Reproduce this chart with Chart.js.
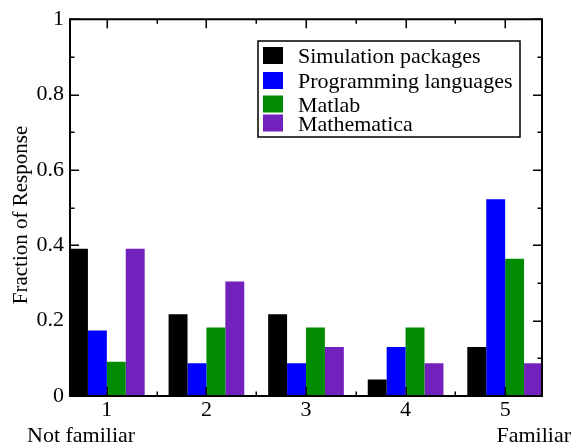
<!DOCTYPE html>
<html>
<head>
<meta charset="utf-8">
<style>
  html, body { margin: 0; padding: 0; background: #fff; }
  #wrap { width: 573px; height: 444px; }
</style>
<script src="https://cdn.jsdelivr.net/npm/chart.js@4/dist/chart.umd.min.js"></script>
</head>
<body>
<div id="wrap"><canvas id="c" width="573" height="444"></canvas></div>
<script>
// ---- data ----
const categories = [1, 2, 3, 4, 5];
const seriesNames = ["Simulation packages", "Programming languages", "Matlab", "Mathematica"];
const simulationPackages = [0.391, 0.217, 0.217, 0.044, 0.130];
const programmingLanguages = [0.174, 0.087, 0.087, 0.130, 0.522];
const matlab = [0.091, 0.182, 0.182, 0.182, 0.364];
const mathematica = [0.391, 0.304, 0.130, 0.087, 0.087];
const xMinorTicks = [1.5, 2.5, 3.5, 4.5];
const yMajorTicks = [0, 0.2, 0.4, 0.6, 0.8, 1];
const yMinorTicks = [0.1, 0.3, 0.5, 0.7, 0.9];
const yTitle = "Fraction of Response";
const lowLabel = "Not familiar";
const highLabel = "Familiar";

const colors = ["#000000", "#0000ff", "#008b00", "#7221bc"];
const seriesValues = [simulationPackages, programmingLanguages, matlab, mathematica];
const FONT = '"Liberation Serif", "Times New Roman", serif';
Chart.defaults.font.family = FONT;
Chart.defaults.font.size = 22;
Chart.defaults.color = '#000';

const datasets = seriesValues.map((vals, i) => ({
  label: seriesNames[i],
  data: categories.map((c, k) => ({ x: c, y: vals[k] })),
  backgroundColor: colors[i],
  borderWidth: 0,
  categoryPercentage: 0.76,
  barPercentage: 1.0
}));

const framePlugin = {
  id: 'frame',
  afterDatasetsDraw(chart) {
    const ctx = chart.ctx;
    const a = chart.chartArea;
    const xs = chart.scales.x, ys = chart.scales.y;
    ctx.save();
    ctx.strokeStyle = '#000';
    ctx.lineWidth = 2;
    ctx.beginPath();
    ctx.rect(a.left, a.top, a.right - a.left, a.bottom - a.top);
    ctx.stroke();
    ctx.lineWidth = 1.5;
    ctx.beginPath();
    const xt = (v, len) => {
      const p = Math.round(xs.getPixelForValue(v)) + 0.25;
      ctx.moveTo(p, a.bottom); ctx.lineTo(p, a.bottom - len);
      ctx.moveTo(p, a.top); ctx.lineTo(p, a.top + len);
    };
    const yt = (v, len) => {
      const p = Math.round(ys.getPixelForValue(v)) + 0.25;
      ctx.moveTo(a.left, p); ctx.lineTo(a.left + len, p);
      ctx.moveTo(a.right, p); ctx.lineTo(a.right - len, p);
    };
    categories.forEach(v => xt(v, 9));
    xMinorTicks.forEach(v => xt(v, 4.5));
    yMajorTicks.forEach(v => yt(v, 9));
    yMinorTicks.forEach(v => yt(v, 4.5));
    ctx.stroke();

    // legend
    const bx = 258, by = 41, bw = 262, bh = 96;
    ctx.fillStyle = '#fff';
    ctx.fillRect(bx, by, bw, bh);
    ctx.lineWidth = 1.5;
    ctx.strokeRect(bx, by, bw, bh);
    const rowBase = [64, 89, 112.5, 131.5];
    ctx.font = '22px ' + FONT;
    ctx.textBaseline = 'alphabetic';
    ctx.textAlign = 'left';
    chart.data.datasets.forEach((ds, i) => {
      const b = rowBase[i];
      ctx.fillStyle = ds.backgroundColor;
      ctx.fillRect(263, b - 17, 20, 17);
      ctx.fillStyle = '#000';
      ctx.fillText(ds.label, 298, b - 1);
    });

    // y title
    ctx.save();
    ctx.translate(27, 215);
    ctx.rotate(-Math.PI / 2);
    ctx.textAlign = 'center';
    ctx.textBaseline = 'alphabetic';
    ctx.font = '21px ' + FONT;
    ctx.fillText(yTitle, 0, 0);
    ctx.restore();

    // end labels
    ctx.font = '22px ' + FONT;
    ctx.textAlign = 'left';
    ctx.fillText(lowLabel, 27, 442);
    ctx.textAlign = 'right';
    ctx.fillText(highLabel, 571, 442);
    ctx.restore();
  }
};

new Chart(document.getElementById('c'), {
  type: 'bar',
  data: { datasets },
  options: {
    responsive: false,
    animation: false,
    layout: { padding: { top: 18, right: 31, left: 0, bottom: 0 } },
    plugins: { legend: { display: false }, tooltip: { enabled: false } },
    scales: {
      x: {
        type: 'linear',
        offset: false,
        min: 0.63,
        max: 5.37,
        afterBuildTicks: (s) => { s.ticks = categories.map(v => ({ value: v })); },
        afterFit: (s) => { s.height = 48; },
        grid: { display: false, drawTicks: false, offset: false },
        border: { display: false },
        ticks: { color: '#000', font: { family: FONT, size: 22 }, padding: 1, maxRotation: 0,
                  callback: (v) => String(v) }
      },
      y: {
        min: 0,
        max: 1,
        afterBuildTicks: (s) => { s.ticks = yMajorTicks.map(v => ({ value: v })); },
        afterFit: (s) => { s.width = 70; },
        grid: { display: false, drawTicks: false },
        border: { display: false },
        ticks: { color: '#000', font: { family: FONT, size: 22 }, padding: 6,
                  callback: (v) => String(v) }
      }
    }
  },
  plugins: [framePlugin]
});
</script>
</body>
</html>
